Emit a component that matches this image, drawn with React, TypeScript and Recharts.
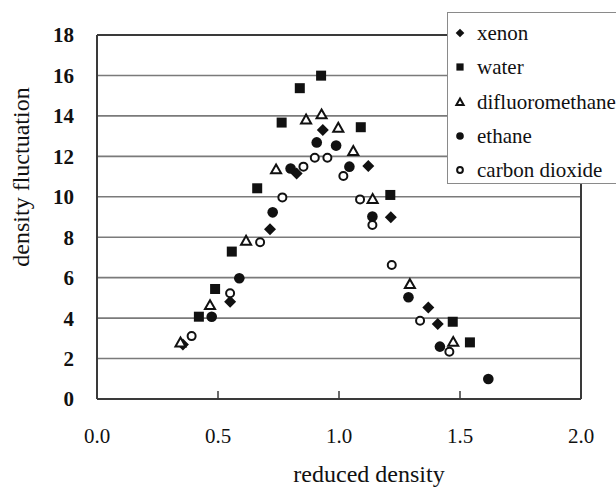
import React from "react";
import { CartesianGrid, Legend, ReferenceLine, Scatter, ScatterChart, XAxis, YAxis } from "recharts";

const xenonX = [0.355, 0.55, 0.715, 0.825, 0.933, 1.121, 1.214, 1.369, 1.408];
const xenonY = [2.7, 4.81, 8.39, 11.15, 13.3, 11.52, 8.99, 4.53, 3.71];
const waterX = [0.421, 0.488, 0.557, 0.662, 0.763, 0.838, 0.926, 1.09, 1.212, 1.47, 1.541];
const waterY = [4.07, 5.44, 7.29, 10.42, 13.67, 15.37, 15.99, 13.44, 10.09, 3.82, 2.8];
const difluoroX = [0.345, 0.467, 0.616, 0.74, 0.864, 0.928, 0.997, 1.059, 1.139, 1.293, 1.472];
const difluoroY = [2.8, 4.65, 7.83, 11.36, 13.83, 14.08, 13.42, 12.27, 9.9, 5.69, 2.83];
const ethaneX = [0.474, 0.588, 0.726, 0.8, 0.908, 0.988, 1.043, 1.138, 1.287, 1.417, 1.617];
const ethaneY = [4.07, 5.97, 9.23, 11.4, 12.69, 12.53, 11.49, 9.02, 5.03, 2.59, 0.99];
const co2X = [0.391, 0.55, 0.674, 0.766, 0.853, 0.9, 0.952, 1.018, 1.087, 1.138, 1.218, 1.335, 1.456];
const co2Y = [3.11, 5.23, 7.75, 9.97, 11.49, 11.93, 11.93, 11.03, 9.87, 8.6, 6.63, 3.87, 2.34];

const xTicks = [0, 0.5, 1, 1.5, 2];
const yTicks = [0, 2, 4, 6, 8, 10, 12, 14, 16, 18];

const FONT = '"Liberation Serif"';
const INK = "#111";

const pts = (xs: number[], ys: number[]) => xs.map((x, i) => ({ x, y: ys[i] }));

type Kind = "diamond" | "square" | "triangle" | "dot" | "ring";

function Marker({ kind, cx, cy, s = 1 }: { kind: Kind; cx: number; cy: number; s?: number }) {
  if (kind === "diamond") {
    const r = 6 * s;
    return <path d={`M${cx},${cy - r}L${cx + r},${cy}L${cx},${cy + r}L${cx - r},${cy}Z`} fill={INK} />;
  }
  if (kind === "square") {
    const h = 5 * s;
    return <rect x={cx - h} y={cy - h} width={2 * h} height={2 * h} fill={INK} />;
  }
  if (kind === "triangle") {
    const h = 4.8 * s;
    return (
      <path
        d={`M${cx},${cy - h}L${cx + h * 1.05},${cy + h * 0.85}L${cx - h * 1.05},${cy + h * 0.85}Z`}
        fill="#fff"
        stroke={INK}
        strokeWidth={2}
      />
    );
  }
  if (kind === "dot") return <circle cx={cx} cy={cy} r={5.3 * s} fill={INK} />;
  return <circle cx={cx} cy={cy} r={4 * s} fill="#fff" stroke={INK} strokeWidth={2} />;
}

const series: { name: string; kind: Kind; data: { x: number; y: number }[] }[] = [
  { name: "xenon", kind: "diamond", data: pts(xenonX, xenonY) },
  { name: "water", kind: "square", data: pts(waterX, waterY) },
  { name: "difluoromethane", kind: "triangle", data: pts(difluoroX, difluoroY) },
  { name: "ethane", kind: "dot", data: pts(ethaneX, ethaneY) },
  { name: "carbon dioxide", kind: "ring", data: pts(co2X, co2Y) },
];

function LegendBox() {
  return (
    <div
      style={{
        width: 190,
        height: 172,
        background: "#fff",
        border: "1.5px solid #8a8a8a",
        boxSizing: "border-box",
        fontFamily: FONT,
        fontSize: 21,
        color: INK,
        paddingTop: 3,
      }}
    >
      {series.map((s) => (
        <div key={s.name} style={{ display: "flex", alignItems: "center", height: 34.3 }}>
          <svg width={26} height={20} style={{ marginLeft: 2 }}>
            <Marker kind={s.kind} cx={10} cy={10} s={0.72} />
          </svg>
          <span style={{ marginLeft: 1, lineHeight: "20px" }}>{s.name}</span>
        </div>
      ))}
    </div>
  );
}

export default function App() {
  return (
    <div style={{ position: "absolute", left: 0, top: 0, width: 616, height: 490, overflow: "hidden", background: "#fff" }}>
      <style>{"body{margin:0}"}</style>
      <ScatterChart width={616} height={490} margin={{ top: 35, right: 35, bottom: 0, left: 0 }}>
        <CartesianGrid horizontal vertical={false} stroke="#7a7a7a" strokeWidth={1.6} />
        <XAxis
          type="number"
          dataKey="x"
          domain={[0, 2]}
          ticks={xTicks}
          tickFormatter={(v: number) => v.toFixed(1)}
          height={91}
          axisLine={{ stroke: "#3a3a3a", strokeWidth: 2 }}
          tickLine={{ stroke: "#3a3a3a", strokeWidth: 1.5 }}
          tickSize={-8}
          tickMargin={37}
          tick={{ fill: INK, fontSize: 21, fontFamily: FONT }}
          label={{
            content: () => (
              <text x={369} y={482} textAnchor="middle" fill={INK} fontSize={24} fontFamily={FONT}>
                reduced density
              </text>
            ),
          }}
        />
        <YAxis
          type="number"
          dataKey="y"
          domain={[0, 18]}
          ticks={yTicks}
          width={97}
          axisLine={{ stroke: "#3a3a3a", strokeWidth: 2 }}
          tickLine={false}
          tickMargin={17}
          tick={{ fill: INK, fontSize: 21, fontFamily: FONT, fontWeight: "bold" }}
          label={{
            content: () => (
              <text
                transform="translate(29,177) rotate(-90)"
                textAnchor="middle"
                fill={INK}
                fontSize={24}
                fontFamily={FONT}
              >
                density fluctuation
              </text>
            ),
          }}
        />
        <ReferenceLine y={18} stroke="#3a3a3a" strokeWidth={2} />
        <ReferenceLine x={2} stroke="#3a3a3a" strokeWidth={2} />
        {series.map((s) => (
          <Scatter
            key={s.name}
            name={s.name}
            data={s.data}
            isAnimationActive={false}
            shape={(p: any) => <Marker kind={s.kind} cx={p.cx} cy={p.cy} />}
          />
        ))}
        <Legend
          layout="vertical"
          align="center"
          verticalAlign="middle"
          wrapperStyle={{ left: 447, top: 12, width: 190, height: 172 }}
          content={() => <LegendBox />}
        />
      </ScatterChart>
    </div>
  );
}
